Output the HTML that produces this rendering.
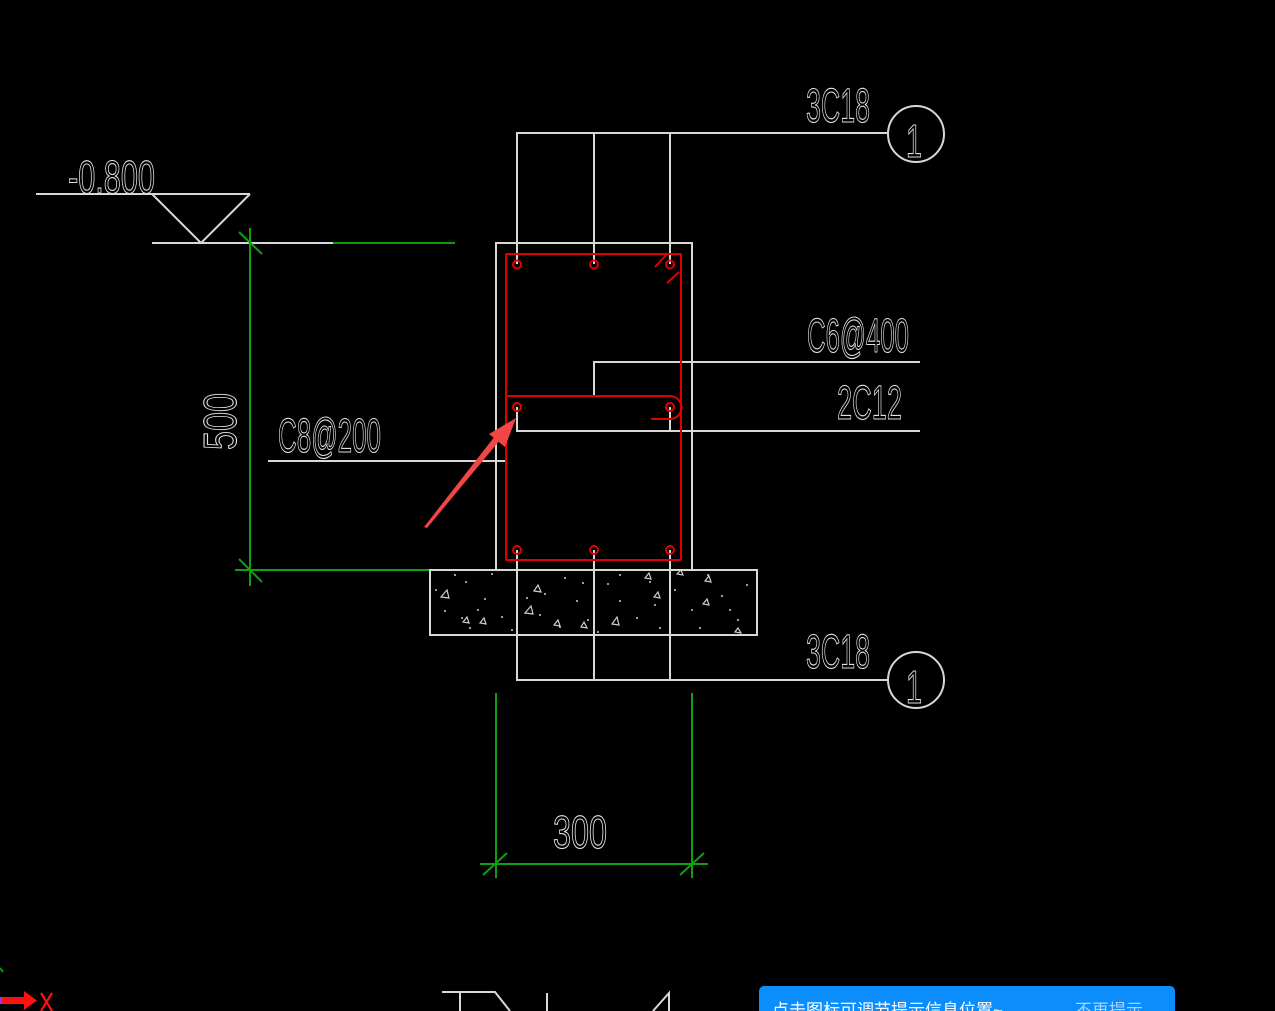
<!DOCTYPE html>
<html><head><meta charset="utf-8"><style>
html,body{margin:0;padding:0;background:#000;width:1275px;height:1011px;overflow:hidden}
svg{display:block}
.t{font-family:"Liberation Sans",sans-serif;fill:none;stroke:#e2e2e2;stroke-width:1.1}
</style></head><body>
<svg width="1275" height="1011" viewBox="0 0 1275 1011" xmlns="http://www.w3.org/2000/svg">
<rect width="1275" height="1011" fill="#000"/>
<!-- elevation marker -->
<g stroke="#d8d8d8" stroke-width="2" fill="none">
<line x1="36" y1="194" x2="250" y2="194"/>
<polyline points="152,194 201,243 250,194"/>
<line x1="152" y1="243" x2="333" y2="243"/>
</g>
<line x1="333" y1="243" x2="455" y2="243" stroke="#0a9a0a" stroke-width="2"/>
<text class="t" x="68" y="193" font-size="46" textLength="87" lengthAdjust="spacingAndGlyphs">-0.800</text>

<!-- dimension 500 -->
<g stroke="#0fa00f" stroke-width="2">
<line x1="250" y1="228" x2="250" y2="586"/>
<line x1="239" y1="232" x2="262" y2="254"/>
<line x1="239" y1="559" x2="262" y2="582"/>
<line x1="235" y1="570" x2="430" y2="570"/>
</g>
<text class="t" font-size="46" transform="translate(236,450) rotate(-90)" x="0" y="0" textLength="57" lengthAdjust="spacingAndGlyphs">500</text>

<!-- dimension 300 -->
<g stroke="#0fa00f" stroke-width="2">
<line x1="496" y1="693" x2="496" y2="878"/>
<line x1="692" y1="693" x2="692" y2="878"/>
<line x1="480" y1="864" x2="708" y2="864"/>
<line x1="483" y1="875" x2="507" y2="853"/>
<line x1="680" y1="875" x2="704" y2="853"/>
</g>
<text class="t" x="553" y="848" font-size="46" textLength="54" lengthAdjust="spacingAndGlyphs">300</text>

<!-- footing -->
<rect x="430" y="570" width="327" height="65" fill="none" stroke="#d8d8d8" stroke-width="2"/>
<g fill="#cfcfcf">
<circle cx="455" cy="575" r="1"/><circle cx="466" cy="582" r="1"/><circle cx="492" cy="574" r="1"/><circle cx="485" cy="599" r="1"/>
<circle cx="462" cy="618" r="1"/><circle cx="478" cy="610" r="1"/><circle cx="502" cy="617" r="1"/><circle cx="517" cy="582" r="1"/>
<circle cx="527" cy="598" r="1"/><circle cx="545" cy="594" r="1"/><circle cx="565" cy="578" r="1"/><circle cx="577" cy="601" r="1"/>
<circle cx="588" cy="620" r="1"/><circle cx="560" cy="627" r="1"/><circle cx="540" cy="615" r="1"/><circle cx="512" cy="630" r="1"/>
<circle cx="608" cy="584" r="1"/><circle cx="620" cy="601" r="1"/><circle cx="637" cy="618" r="1"/><circle cx="650" cy="582" r="1"/>
<circle cx="660" cy="628" r="1"/><circle cx="675" cy="590" r="1"/><circle cx="692" cy="610" r="1"/><circle cx="708" cy="575" r="1"/>
<circle cx="722" cy="596" r="1"/><circle cx="738" cy="620" r="1"/><circle cx="747" cy="585" r="1"/><circle cx="700" cy="628" r="1"/>
<circle cx="436" cy="590" r="1"/><circle cx="445" cy="611" r="1"/><circle cx="598" cy="632" r="1"/><circle cx="730" cy="610" r="1"/>
<circle cx="620" cy="575" r="1"/><circle cx="655" cy="605" r="1"/><circle cx="583" cy="583" r="1"/><circle cx="470" cy="628" r="1"/>
</g>
<g fill="none" stroke="#cfcfcf" stroke-width="1.2">
<polygon points="441,597 447,590 449,598"/><polygon points="525,613 531,606 533,614"/><polygon points="534,591 538,585 541,592"/>
<polygon points="612,624 617,617 619,625"/><polygon points="463,622 467,617 469,623"/><polygon points="480,623 484,618 486,624"/>
<polygon points="654,597 658,592 660,598"/><polygon points="705,581 709,576 711,582"/><polygon points="703,604 707,599 709,605"/>
<polygon points="554,625 558,620 560,626"/><polygon points="645,578 649,573 651,579"/><polygon points="735,632 738,628 741,633"/>
<polygon points="581,627 584,622 587,628"/><polygon points="677,574 681,570 683,575"/>
</g>

<!-- column outline -->
<rect x="496" y="243" width="196" height="327" fill="none" stroke="#d8d8d8" stroke-width="2"/>

<!-- rebar leader lines -->
<g stroke="#d8d8d8" stroke-width="2" fill="none">
<polyline points="517,264 517,133 888,133"/>
<line x1="594" y1="133" x2="594" y2="264"/>
<line x1="670" y1="133" x2="670" y2="264"/>
<polyline points="517,550 517,680 888,680"/>
<line x1="594" y1="550" x2="594" y2="680"/>
<line x1="670" y1="550" x2="670" y2="680"/>
<polyline points="594,396 594,362 920,362"/>
<polyline points="517,407 517,431 920,431"/>
<line x1="670" y1="407" x2="670" y2="431"/>
<line x1="268" y1="461" x2="506" y2="461"/>
<circle cx="916" cy="134" r="28"/>
<circle cx="916" cy="680" r="28"/>
</g>
<text class="t" x="906" y="157" font-size="46" textLength="16" lengthAdjust="spacingAndGlyphs">1</text>
<text class="t" x="906" y="703" font-size="46" textLength="16" lengthAdjust="spacingAndGlyphs">1</text>

<!-- red stirrup -->
<g stroke="#e00000" stroke-width="2" fill="none">
<rect x="506" y="254" width="175" height="306" rx="1"/>
<path d="M506,396 L670,396 A11.5,11.5 0 0 1 670,419 L651,419"/>
<line x1="655" y1="267" x2="667" y2="254"/>
<line x1="667" y1="283" x2="679" y2="272"/>
<circle cx="517" cy="264.5" r="4"/><circle cx="594" cy="264.5" r="4"/><circle cx="670" cy="264.5" r="4"/>
<circle cx="517" cy="407" r="4"/><circle cx="670" cy="407" r="4"/>
<circle cx="517" cy="550" r="4"/><circle cx="594" cy="550" r="4"/><circle cx="670" cy="550" r="4"/>
</g>

<!-- labels -->
<text class="t" x="806" y="122" font-size="48" textLength="64" lengthAdjust="spacingAndGlyphs">3C18</text>
<text class="t" x="806" y="668" font-size="48" textLength="64" lengthAdjust="spacingAndGlyphs">3C18</text>
<text class="t" x="807" y="352" font-size="48" textLength="102" lengthAdjust="spacingAndGlyphs">C6@400</text>
<text class="t" x="837" y="419" font-size="48" textLength="65" lengthAdjust="spacingAndGlyphs">2C12</text>
<text class="t" x="278" y="452" font-size="48" textLength="103" lengthAdjust="spacingAndGlyphs">C8@200</text>

<!-- red annotation arrow -->
<polygon points="424,527 427,528 500,440 495,436" fill="#f24646"/>
<polygon points="516,418 489,434 505,447" fill="#f24646"/>

<!-- bottom left axis -->
<line x1="0" y1="968" x2="3" y2="972" stroke="#0a9a0a" stroke-width="2"/>
<rect x="0" y="997" width="25" height="7" fill="#ff1010"/>
<polygon points="24,991 37,1000.5 24,1010" fill="#ff1010"/>
<rect x="0" y="997" width="2" height="7" fill="#8a3cff"/>
<g stroke="#ff1010" stroke-width="2.2">
<line x1="41" y1="993" x2="52" y2="1011"/>
<line x1="52" y1="993" x2="41" y2="1011"/>
</g>

<!-- bottom mid partial glyphs -->
<g stroke="#d8d8d8" stroke-width="2" fill="none">
<polyline points="442,992 495,992 510,1011"/>
<line x1="460" y1="992" x2="460" y2="1011"/>
<line x1="547" y1="993" x2="547" y2="1011"/>
<polyline points="653,1011 669,993 669,1011"/>
</g>

<!-- tip box -->
<rect x="759" y="986" width="416" height="40" rx="5" fill="#0b8efc"/>
<text x="772" y="1016" font-family="'Liberation Sans','Noto Sans CJK SC',sans-serif" font-size="17" fill="#ffffff">点击图标可调节提示信息位置~</text>
<text x="1075" y="1016" font-family="'Liberation Sans','Noto Sans CJK SC',sans-serif" font-size="17" fill="#a9d4ff">不再提示</text>
</svg>
</body></html>
